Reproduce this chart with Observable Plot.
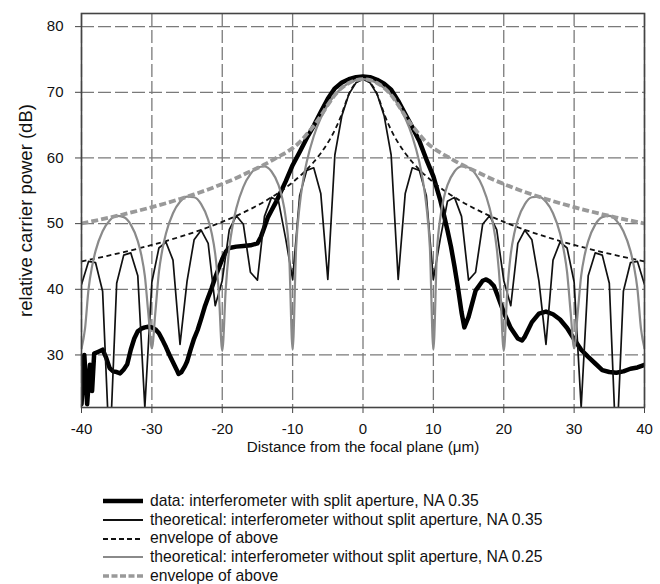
<!DOCTYPE html>
<html><head><meta charset="utf-8">
<script src="https://cdn.jsdelivr.net/npm/d3@7"></script>
<script src="https://cdn.jsdelivr.net/npm/@observablehq/plot@0.6"></script>
<style>
body{margin:0;background:#fff;font-family:"Liberation Sans",Arial,Helvetica,sans-serif;}
#chart{width:660px;}
.legend{margin-top:22px;padding-left:103px;font-size:15.7px;line-height:18.7px;color:#111;}
.row{display:flex;align-items:center;height:18.7px;white-space:nowrap;}
.row svg{margin-right:7px;flex:none;}
</style></head><body>
<div id="chart"></div>
<script>
// ---- tick labels / titles ----
const xTicks = [-40, -30, -20, -10, 0, 10, 20, 30, 40];
const yTicks = [30, 40, 50, 60, 70, 80];
const xTitle = "Distance from the focal plane (\u03bcm)";
const yTitle = "relative carrier power (dB)";
const legendLabels = [
  "data: interferometer with split aperture, NA 0.35",
  "theoretical: interferometer without split aperture, NA 0.35",
  "envelope of above",
  "theoretical: interferometer without split aperture, NA 0.25",
  "envelope of above"
];

// ---- measured data (thick black) ----
const dataX = [-40,-39.6,-39.2,-38.8,-38.5,-38.2,-37.6,-37,-36.5,-36,-35.5,-35,-34.5,-34,-33.5,-33,-32.5,-32,-31.5,-31,-30.5,-30,-29.5,-29,-28.5,-28,-27.5,-27,-26.5,-26.2,-25.8,-25.3,-25,-24.5,-24,-23.5,-23,-22.5,-22,-21.5,-21,-20.5,-20,-19.5,-19,-18,-17,-16,-15,-14.5,-14,-13.5,-13,-12.5,-12,-11,-10,-9,-8,-7,-6,-5,-4,-3,-2,-1,0,1,2,3,4,5,6,7,8,9,10,11,11.5,12,12.5,13,13.5,14,14.4,15,16,17,17.5,18,18.6,19,20,21,22,22.6,23,24,25,26,27,28,29,30,31,32,33,34,35,36,37,38,39,40];
const dataY = [22.5,30,22.5,28.5,24.5,30.2,30.5,30.8,29.6,28,27.5,27.4,27.2,27.8,28.6,30.8,32.5,33.6,34,34.2,34.3,34.2,33.9,33.3,32.3,31.2,30,28.9,27.8,27.1,27.4,28.3,29,30.8,32.5,33.8,35.5,37.3,38.8,40.2,41.8,43.2,44.6,45.7,46.3,46.5,46.6,46.7,47,48,49.5,51,52,53,54.1,56.4,58.9,60.9,63,64.9,67,69,70.6,71.5,72,72.3,72.4,72.3,71.9,71.3,70.4,68.7,66.7,64.7,62.6,59.8,57.2,53.5,51.3,49,46.5,43.5,40.2,36.5,34.2,35.8,39.8,41.3,41.5,41.2,40.5,39.4,36.5,34.1,32.5,32.2,32.8,35,36.3,36.6,36.2,35.4,34.1,32.4,30.8,29.7,28.7,27.7,27.4,27.3,27.5,27.9,28.1,28.5];

// ---- theoretical NA 0.35 (thin black, sampled every 1 um) ----
const t35X = [-40,-39,-38,-37,-36,-35,-34,-33,-32,-31,-30,-29,-28,-27,-26,-25,-24,-23,-22,-21,-20,-19,-18,-17,-16,-15,-14,-13,-12,-11,-10,-9,-8,-7,-6,-5,-4,-3,-2,-1,0,1,2,3,4,5,6,7,8,9,10,11,12,13,14,15,16,17,18,19,20,21,22,23,24,25,26,27,28,29,30,31,32,33,34,35,36,37,38,39,40];
const t35Y = [40.74,44.24,44.05,39.7,14.7,40.93,45.21,45.55,42.05,22.0,41.11,46.29,47.18,44.45,31.6,41.25,47.54,49.01,46.99,37.5,41.35,49.1,51.2,49.9,42.6,41.4,51.1,54.0,53.4,47.8,41.5,54.26,58.11,58.5,54.6,41.5,60.45,66.45,69.73,71.46,72,71.46,69.73,66.45,60.45,41.5,54.6,58.5,58.11,54.26,41.5,47.8,53.4,54.0,51.1,41.4,42.6,49.9,51.2,49.1,41.35,37.5,46.99,49.01,47.54,41.25,31.6,44.45,47.18,46.29,41.11,22.0,42.05,45.55,45.21,40.93,14.7,39.7,44.05,44.24,40.74];

// ---- envelope of NA 0.35 (black dashed) ----
const e35X = [-40,-38,-36,-34,-32,-30,-28,-26,-24,-22,-20,-18,-16,-14,-12,-10,-9,-8,-7,-6,-5,-4,-3,-2.575,-2,-1,0,1,2,2.575,3,4,5,6,7,8,9,10,12,14,16,18,20,22,24,26,28,30,32,34,36,38,40];
const e35Y = [44.25,44.7,45.17,45.66,46.19,46.75,47.35,47.99,48.69,49.45,50.27,51.19,52.21,53.37,54.71,56.29,57.21,58.23,59.39,60.73,62.31,64.25,66.75,68.08,69.73,71.46,72,71.46,69.73,68.08,66.75,64.25,62.31,60.73,59.39,58.23,57.21,56.29,54.71,53.37,52.21,51.19,50.27,49.45,48.69,47.99,47.35,46.75,46.19,45.66,45.17,44.7,44.25];

// ---- theoretical NA 0.25 (grey) ----
const t25X = [-40,-39.5,-39,-38.5,-38,-37,-36,-35,-34,-33,-32,-31.5,-31,-30.5,-30,-29.5,-29,-28.5,-28,-27,-26,-25,-24,-23,-22,-21.5,-21,-20.5,-20,-19.5,-19,-18.5,-18,-17,-16,-15,-14,-13,-12,-11.5,-11,-10.5,-10,-9.5,-9,-8.5,-8,-7,-6,-5,-4,-3,-2,-1,0,1,2,3,4,5,6,7,8,8.5,9,9.5,10,10.5,11,11.5,12,13,14,15,16,17,18,18.5,19,19.5,20,20.5,21,21.5,22,23,24,25,26,27,28,28.5,29,29.5,30,30.5,31,31.5,32,33,34,35,36,37,38,38.5,39,39.5,40];
const t25Y = [31,34.0,40.04,43.49,45.85,48.85,50.49,51.18,50.99,49.85,47.34,45.23,42.03,36.3,31.0,36.55,42.61,46.1,48.5,51.59,53.32,54.10,54.02,52.98,50.59,48.55,45.4,39.7,30.6,40.1,46.28,49.85,52.33,55.61,57.54,58.54,58.70,57.94,55.86,53.99,51.03,45.5,30.8,46.4,52.77,56.61,59.38,63.31,66.06,68.08,69.58,70.67,71.42,71.86,72,71.86,71.42,70.67,69.58,68.08,66.06,63.31,59.38,56.61,52.77,46.4,30.8,45.5,51.03,53.99,55.86,57.94,58.70,58.54,57.54,55.61,52.33,49.85,46.28,40.1,30.6,39.7,45.4,48.55,50.59,52.98,54.02,54.10,53.32,51.59,48.5,46.1,42.61,36.55,31.0,36.3,42.03,45.23,47.34,49.85,50.99,51.18,50.49,48.85,45.85,43.49,40.04,34.0,31];

// ---- envelope of NA 0.25 (grey dashed) ----
const e25X = [-40,-38,-36,-34,-32,-30,-28,-26,-24,-22,-20,-18,-16,-14,-12,-11,-10,-9,-8,-7,-6,-5,-4,-3,-2,-1,0,1,2,3,4,5,6,7,8,9,10,11,12,14,16,18,20,22,24,26,28,30,32,34,36,38,40];
const e25Y = [50.02,50.47,50.93,51.43,51.95,52.51,53.11,53.76,54.45,55.21,56.04,56.95,57.97,59.0,60.2,60.8,61.5,62.4,63.6,64.9,66.4,68.08,69.58,70.67,71.42,71.86,72,71.86,71.42,70.67,69.58,68.08,66.4,64.9,63.6,62.4,61.5,60.8,60.2,59.0,57.97,56.95,56.04,55.21,54.45,53.76,53.11,52.51,51.95,51.43,50.93,50.47,50.02];

const idx = a => a.map((_, i) => i);
const grey = "#8a8a8a";

const plot = Plot.plot({
  width: 660, height: 470,
  marginLeft: 81, marginRight: 16, marginTop: 13, marginBottom: 63,
  style: {fontFamily: "Liberation Sans, Arial, Helvetica, sans-serif", fontSize: "15px", color: "#111", background: "#fff"},
  x: {domain: [-40, 40]},
  y: {domain: [22, 82]},
  marks: [
    Plot.gridX(xTicks, {stroke: "#7a7a7a", strokeOpacity: 1, strokeWidth: 1.3, strokeDasharray: "13,4"}),
    Plot.gridY(yTicks, {stroke: "#7a7a7a", strokeOpacity: 1, strokeWidth: 1.3, strokeDasharray: "13,4"}),
    Plot.axisX(xTicks, {tickSize: 6, tickPadding: 10, tickFormat: d => String(d), label: null, fontSize: 15, stroke: "#444"}),
    Plot.axisY(yTicks, {tickSize: 6, tickPadding: 12, tickFormat: d => String(d), label: null, fontSize: 15, stroke: "#444"}),
    Plot.line(idx(dataX), {x: dataX, y: dataY, stroke: "#000", strokeWidth: 4.5, strokeLinejoin: "round", clip: true}),
    Plot.line(idx(t35X), {x: t35X, y: t35Y, stroke: "#111", strokeWidth: 1.7, clip: true}),
    Plot.line(idx(e35X), {x: e35X, y: e35Y, stroke: "#111", strokeWidth: 1.8, strokeDasharray: "5,3.5", strokeLinecap: "butt", curve: "monotone-x", clip: true}),
    Plot.line(idx(t25X), {x: t25X, y: t25Y, stroke: grey, strokeWidth: 2.2, curve: "monotone-x", clip: true}),
    Plot.line(idx(e25X), {x: e25X, y: e25Y, stroke: "#999", strokeWidth: 3.8, strokeDasharray: "7,3", strokeLinecap: "butt", curve: "monotone-x", clip: true}),
    Plot.frame({stroke: "#444", strokeWidth: 1.6}),
    Plot.text([xTitle], {frameAnchor: "bottom", dy: 44, fontSize: 15.2, fill: "#111"}),
    Plot.text([yTitle], {frameAnchor: "left", dx: -55, rotate: -90, textAnchor: "middle", lineAnchor: "middle", fontSize: 18.5, fill: "#111"})
  ]
});
document.getElementById("chart").appendChild(plot);

// ---- legend ----
const swatches = [
  {stroke: "#000", width: 4.5, dash: null},
  {stroke: "#111", width: 2, dash: null},
  {stroke: "#111", width: 2, dash: "5,3"},
  {stroke: grey, width: 2.2, dash: null},
  {stroke: "#999", width: 3.5, dash: "6,2.5"}
];
const leg = document.createElement("div");
leg.className = "legend";
legendLabels.forEach((t, i) => {
  const s = swatches[i];
  const row = document.createElement("div");
  row.className = "row";
  row.innerHTML = `<svg width="40" height="10"><line x1="0" x2="40" y1="5" y2="5" stroke="${s.stroke}" stroke-width="${s.width}" ${s.dash ? `stroke-dasharray="${s.dash}"` : ""}/></svg><span>${t}</span>`;
  leg.appendChild(row);
});
document.body.appendChild(leg);
</script></body></html>
